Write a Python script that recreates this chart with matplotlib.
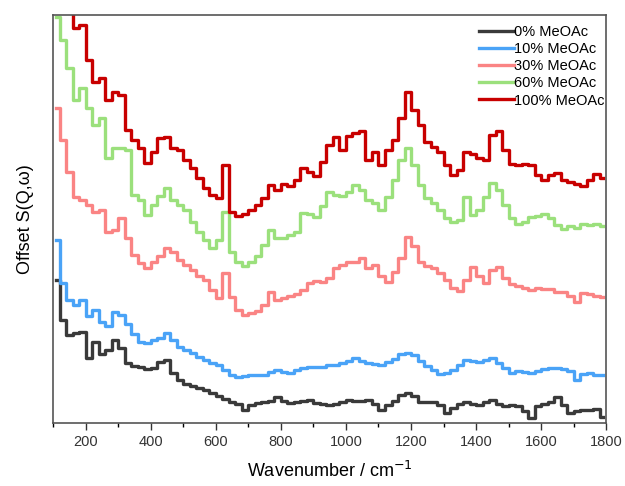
import numpy as np
import matplotlib
matplotlib.use("Agg")
import matplotlib.pyplot as plt

plt.rcParams['font.family'] = ['Liberation Sans', 'DejaVu Sans']

# wavenumber grid (cm-1)
wavenumber = list(range(110, 1800, 20))

# offset intensities (arbitrary units)
meoac_0 = [143, 103, 88, 90, 91, 65, 81, 69, 73, 83, 75, 60, 57, 56, 54, 55, 61, 63, 50, 43,
           39, 37, 35, 33, 30, 27, 24, 21, 19, 13, 18, 20, 21, 22, 26, 22, 20, 21, 22, 23,
           20, 19, 18, 19, 21, 23, 22, 22, 23, 19, 13, 18, 22, 28, 30, 27, 21, 21, 21, 18,
           10, 15, 19, 21, 19, 18, 21, 23, 19, 17, 18, 17, 12, 5, 17, 19, 21, 26, 18, 10,
           12, 13, 13, 14, 6]
meoac_10 = [183, 140, 123, 118, 123, 107, 113, 101, 97, 111, 108, 99, 89, 81, 80, 83, 85, 90, 83, 76,
            73, 70, 66, 63, 60, 58, 53, 48, 46, 47, 48, 48, 48, 51, 53, 51, 50, 53, 55, 56,
            56, 56, 58, 58, 60, 62, 65, 62, 60, 59, 58, 61, 64, 69, 70, 68, 62, 57, 53, 49,
            50, 53, 58, 63, 62, 61, 63, 65, 60, 55, 50, 52, 51, 50, 52, 54, 55, 55, 54, 52,
            43, 49, 50, 48, 48]
meoac_30 = [315, 283, 251, 226, 223, 218, 211, 213, 191, 193, 205, 185, 168, 160, 155, 161, 167, 175, 171, 163,
            158, 153, 147, 143, 133, 125, 150, 126, 113, 108, 110, 112, 118, 131, 123, 125, 127, 129, 133, 140,
            142, 141, 145, 155, 158, 161, 161, 165, 155, 158, 147, 141, 151, 165, 186, 177, 161, 157, 155, 150,
            143, 135, 132, 143, 156, 147, 140, 153, 156, 145, 139, 137, 135, 133, 135, 134, 134, 131, 131, 127,
            121, 130, 129, 127, 126]
meoac_60 = [406, 383, 355, 323, 335, 315, 298, 305, 265, 275, 275, 273, 228, 223, 208, 218, 227, 235, 223, 218,
            213, 201, 191, 183, 175, 183, 211, 171, 161, 157, 161, 167, 178, 193, 185, 185, 188, 191, 210, 209,
            206, 217, 231, 228, 227, 231, 238, 233, 223, 220, 213, 226, 243, 263, 275, 258, 238, 225, 220, 213,
            205, 201, 203, 226, 208, 213, 226, 240, 233, 218, 205, 199, 201, 206, 207, 209, 205, 198, 194, 197,
            195, 199, 198, 199, 197]
meoac_100 = [443, 428, 413, 395, 398, 363, 341, 345, 323, 331, 328, 293, 283, 275, 260, 271, 285, 286, 275, 273,
             263, 255, 245, 235, 228, 225, 258, 211, 207, 209, 213, 218, 225, 238, 233, 239, 237, 243, 255, 251,
             247, 261, 278, 286, 273, 287, 290, 292, 263, 271, 258, 273, 283, 305, 331, 313, 298, 281, 276, 271,
             258, 248, 253, 271, 269, 265, 263, 288, 292, 273, 259, 258, 259, 258, 248, 243, 248, 250, 243, 241,
             239, 237, 243, 249, 245]

labels = ['0% MeOAc', '10% MeOAc', '30% MeOAc', '60% MeOAc', '100% MeOAc']
colors = ['#3a3a3a', '#4aa3f7', '#fa8484', '#9be07c', '#c80000']
series = [meoac_0, meoac_10, meoac_30, meoac_60, meoac_100]

fig = plt.figure(figsize=(6.25, 4.86), dpi=100)
ax = fig.add_axes([0.085, 0.13, 0.885, 0.839])

for y, c, lab in zip(series, colors, labels):
    ax.plot(wavenumber, y, drawstyle='steps-mid', color=c, lw=2.4, label=lab)

ax.set_xlim(100, 1800)
ax.set_ylim(0, 408)
ax.set_xticks([200, 400, 600, 800, 1000, 1200, 1400, 1600, 1800])
ax.set_xticks(np.arange(100, 1801, 100), minor=True)
ax.set_yticks([])
ax.tick_params(axis='x', which='major', direction='out', length=5, width=1, labelsize=10.5, colors='#333333')
ax.tick_params(axis='x', which='minor', direction='out', length=3, width=1)
for s in ax.spines.values():
    s.set_color('#555555')
    s.set_linewidth(1.2)

ax.set_xlabel('Wavenumber / cm$^{-1}$', fontsize=13, labelpad=9)
ax.set_ylabel('Offset S(Q,\u03c9)', fontsize=13, labelpad=14)

leg = ax.legend(loc='upper right', bbox_to_anchor=(1.0, 0.98), frameon=False, fontsize=10.5,
                handlelength=2.4, handletextpad=0.05, labelspacing=0.22,
                borderaxespad=0, borderpad=0.1)

fig.savefig('out.png', dpi=100)
